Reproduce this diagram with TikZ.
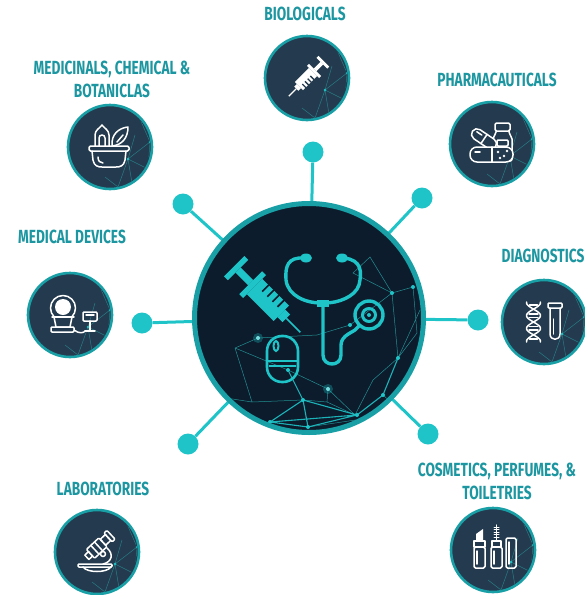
\documentclass[tikz,border=0pt]{standalone}
\usepackage{fontspec}
\newfontfamily\capsfont{Fira Sans}[FakeStretch=0.72]
\usetikzlibrary{positioning}

\definecolor{satfill}{RGB}{36,58,78}
\definecolor{corefill}{RGB}{12,28,44}
\definecolor{ringteal}{RGB}{24,160,166}
\definecolor{dotcyan}{RGB}{30,196,200}
\definecolor{labelteal}{RGB}{28,150,160}
\definecolor{webteal}{RGB}{40,170,170}

% syringe lying along +x, needle to the right
% #1 ink, #2 colour of the scale marks, #3 line width
\newcommand\syringe[3]{%
  \fill[#1] (-25,-8) rectangle (-22,8);
  \fill[#1] (-22,-2) rectangle (-12,2);
  \fill[#1] (-12,-9) rectangle (-9,9);
  \fill[#1] (-9,-6) rectangle (12,6);
  \foreach \t in {-4,0,4,8} \draw[#2,line width=#3] (\t,-6.5) -- (\t,-1);
  \fill[#1] (12,-3) rectangle (16,3);
  \draw[#1,line width=#3] (16,0) -- (27,0);
}

% faint network in the lower right of a small disc
\newcommand\mesh{%
  \draw[web] (8,40) -- (18,12) -- (40,-5) (18,12) -- (38,22) -- (22,36) -- (18,12)
    (38,22) -- (44,40) (-12,42) -- (8,40) -- (22,36) (30,-28) -- (40,-5) -- (38,22)
    (-30,38) -- (-12,42) (25,-12) -- (18,12) (-5,30) -- (8,40);
  \foreach \p in {(18,12),(38,22),(8,40),(40,-5),(22,36)} \fill[spark] \p circle (1.3pt);
}

\begin{document}
\begin{tikzpicture}[x=1pt,y=-1pt,
  sat/.style={circle,minimum size=84pt,inner sep=0pt,fill=satfill,draw=ringteal,line width=2.6pt},
  knob/.style={circle,minimum size=21pt,inner sep=0pt,fill=dotcyan},
  spoke/.style={draw=dotcyan,line width=3pt},
  lbl/.style={text=labelteal,font=\capsfont\bfseries\fontsize{19}{23}\selectfont,align=center,inner sep=0pt},
  ico/.style={draw=white,line width=1.5pt,line cap=round,line join=round},
  steth/.style={draw=dotcyan,line width=3.4pt,line cap=round,line join=round},
  web/.style={draw=webteal,line width=0.5pt,opacity=0.6},
  bright/.style={draw=dotcyan,line width=1.1pt,opacity=0.9},
  spark/.style={fill=dotcyan}]
\useasboundingbox (0,0) rectangle (585,595);

% hub and spokes
\coordinate (mid) at (309,318);
\foreach \n/\x/\y in {k1/313/152,k2/422/198,k3/478/320,k4/428/434,k5/188/444,k6/142/323,k7/183/204}
  \node[knob] (\n) at (\x,\y) {};
\foreach \n in {k1,k2,k3,k4,k5,k6,k7}
  \draw[spoke] (mid) -- (\n);
\node[circle,minimum size=229pt,inner sep=0pt,fill=corefill,draw=ringteal,line width=5pt] (core) at (mid) {};

% the seven discs
\node[sat] (bio) at (307,78) {};
\node[sat] (med) at (110,147) {};
\node[sat] (pha) at (492,144) {};
\node[sat] (dia) at (544,322) {};
\node[sat] (dev) at (70,315) {};
\node[sat] (cos) at (493,550) {};
\node[sat] (lab) at (97,552) {};

\foreach \s in {bio,med,pha,dia,dev,cos,lab} {
  \begin{scope}[shift={(\s.center)}]
    \clip (0,0) circle (40pt);
    \mesh
  \end{scope}
}

% network inside the hub
\begin{scope}
  \clip (mid) circle (112pt);
  \draw[web,opacity=0.8]
    (235,348) -- (288,370) (392,293) -- (413,287)
    (392,293) -- (370,257) -- (353,273) -- (392,293)
    (288,370) -- (328,389) -- (355,415)
    (303,400) -- (252,402)
    (303,400) -- (327,402) -- (355,415) (327,402) -- (328,389)
    (383,395) -- (403,413) -- (308,427)
    (398,358) -- (417,333) -- (413,287)
    (355,415) -- (373,380) -- (398,358)
    (235,348) -- (258,338) -- (317,335) -- (350,325) -- (392,293)
    (252,402) -- (235,348) (226,398) -- (252,402) (398,358) -- (392,293)
    (420,310) -- (398,358) (260,425) -- (270,422);
  \draw[bright]
    (288,370) -- (303,400) -- (270,422) -- (357,415) -- (383,395) -- (398,358)
    (303,400) -- (357,415) (308,427) -- (357,415) (303,400) -- (308,427)
    (270,422) -- (308,427);
  \foreach \p in {(258,338),(328,389)} {
    \fill[dotcyan,opacity=0.3] \p circle (5pt);
    \fill[white!40!dotcyan] \p circle (2pt);
  }
  \foreach \p in {(288,370),(303,400),(308,427),(357,415),(383,395),(398,358),(270,422),(392,293),(413,287),(350,325)}
    \fill[spark] \p circle (2pt);
\end{scope}

% hub: syringe, stethoscope, capsule
\begin{scope}[shift={(266,298)},rotate=-45,scale=1.8]
  \syringe{dotcyan}{corefill}{1.6pt}
\end{scope}
\fill[dotcyan] (306,258) ellipse (6pt and 4.5pt);
\fill[dotcyan] (342,258) ellipse (6pt and 4.5pt);
\draw[steth] (304,258) .. controls (288,257) and (285,266) .. (286,280) .. controls (288,296) and (306,303) .. (321,303);
\draw[steth] (344,258) .. controls (362,260) and (362,272) .. (359,285) .. controls (355,297) and (338,303) .. (325,303);
\fill[dotcyan] (317,300) rectangle (329,307);
\draw[steth] (323,307) -- (323,355) .. controls (323,367) and (341,367) .. (341,355) -- (341,345)
  .. controls (341,335) and (354,332) .. (356,329) -- (360,325);
\draw[steth] (369,315) circle (14pt);
\draw[dotcyan,line width=3pt] (369,315) circle (6.5pt);
\fill[dotcyan] (369,315) circle (2pt);
\draw[steth,line width=2.6pt,rounded corners=15pt] (267,336) rectangle (298,382);
\draw[dotcyan,line width=2.6pt] (267,361) -- (298,361);
\draw[dotcyan,line width=2pt] (269,366) -- (296,366);
\draw[dotcyan,line width=2pt] (276,346) ellipse (2.5pt and 5pt);

% biologicals
\begin{scope}[shift={(bio.center)},rotate=225,scale=0.95]
  \syringe{white}{satfill}{1.4pt}
\end{scope}

% medicinals
\begin{scope}[shift={(med.center)}]
  \draw[ico,rounded corners=1.5pt] (-21,-1) rectangle (19,4);
  \draw[ico] (-18,4) -- (-17,13) .. controls (-16,19) and (-12,20) .. (-8,20) -- (6,20) .. controls (10,20) and (14,19) .. (15,13) -- (16,4);
  \draw[ico] (-12,10) .. controls (-12,14) and (-10,16) .. (-7,16);
  \draw[ico] (-15,-1) -- (-15,-12) .. controls (-15,-17) and (-10,-19) .. (-8,-22) .. controls (-6,-19) and (-1,-17) .. (-1,-12) -- (-1,-1);
  \draw[ico] (-11,-1) -- (-11,-9) .. controls (-11,-13) and (-5,-13) .. (-5,-9) -- (-5,-1);
  \draw[ico] (2,-1) .. controls (1,-13) and (9,-19) .. (18,-20) .. controls (18,-9) and (12,-2) .. (2,-1);
  \draw[ico] (7,-5) -- (13,-12);
\end{scope}

% pharmaceuticals
\begin{scope}[shift={(pha.center)}]
  \draw[ico,rounded corners=1.5pt] (3,-21) rectangle (18,-13);
  \draw[ico,rounded corners=2pt] (4,-13) -- (4,-10) -- (1,-7) -- (1,17) -- (20,17) -- (20,-7) -- (17,-10) -- (17,-13);
  \draw[ico,rounded corners=1pt] (5,-4) rectangle (16,2);
  \begin{scope}[shift={(-8,-5)},rotate=-34]
    \filldraw[ico,fill=satfill,rounded corners=5.5pt] (-14,-5.5) rectangle (14,5.5);
    \draw[ico] (0,-5.5) -- (0,5.5);
    \draw[ico] (-10,-2) -- (-4,-2);
  \end{scope}
  \filldraw[ico,fill=satfill,rounded corners=7pt] (-22,3) rectangle (21,18);
  \draw[ico] (0,3) -- (0,18);
  \draw[ico] (-17,8) -- (-12,8);
  \foreach \p in {(6,8),(12,12),(15,7),(8,14)} \fill[white] \p circle (1.3pt);
\end{scope}

% diagnostics
\begin{scope}[shift={(dia.center)}]
  \draw[ico] plot[domain=-20:20,samples=41,smooth] ({-10.5+7*sin(\x*14)},\x);
  \draw[ico] plot[domain=-20:20,samples=41,smooth] ({-10.5-7*sin(\x*14)},\x);
  \foreach \y in {-17,-8,-4.5,4.5,8,17}
    \draw[ico] ({-10.5-7*abs(sin(\y*14))+2},\y) -- ({-10.5+7*abs(sin(\y*14))-2},\y);
  \draw[ico,rounded corners=1pt] (4,-19) rectangle (18,-14);
  \draw[ico] (6,-14) -- (6,12) .. controls (6,19) and (16,19) .. (16,12) -- (16,-14);
  \draw[ico] (9.5,-3) -- (9.5,12);
\end{scope}

% medical devices
\begin{scope}[shift={(dev.center)}]
  \draw[ico] (-7,-7) circle (12.5pt);
  \fill[white] (-7,-8) circle (8pt);
  \filldraw[ico,fill=satfill] (-16,2) -- (-14,12) -- (0,12) -- (2,2) -- cycle;
  \draw[ico] (-18,2) -- (4,2);
  \draw[ico,rounded corners=1pt] (-19,12) rectangle (4,17);
  \draw[ico,rounded corners=1pt] (13,-3) rectangle (27,6);
  \draw[ico] (16,0) -- (24,0);
  \draw[ico] (20,6) -- (20,16) (15,16) -- (25,16);
  \draw[ico] (4,15) .. controls (9,19) and (14,18) .. (15,16);
\end{scope}

% laboratories
\begin{scope}[shift={(lab.center)}]
  \begin{scope}[shift={(3,-7)},rotate=43]
    \draw[ico] (-18,-3) rectangle (-13,3);
    \draw[ico,rounded corners=1pt] (-13,-6) rectangle (4,6);
    \draw[ico] (-7,-6) -- (-7,6) (-2,-6) -- (-2,6);
    \draw[ico] (4,-4) rectangle (11,4);
    \draw[ico,rounded corners=1pt] (11,-6) rectangle (15,6);
  \end{scope}
  \draw[ico] (10,-4) .. controls (17,2) and (15,10) .. (6,12);
  \draw[ico] (6,2) circle (2.5pt);
  \draw[ico,rounded corners=1pt] (-19,12) rectangle (15,15);
  \draw[ico] (-14,15) .. controls (-10,21) and (10,21) .. (14,15);
\end{scope}

% cosmetics
\begin{scope}[shift={(cos.center)}]
  \fill[white] (-17,-9) -- (-17,-16) -- (-10,-21) -- (-10,-9) -- cycle;
  \draw[ico] (-19,-9) rectangle (-8,-3);
  \draw[ico,rounded corners=1.5pt] (-19,-3) rectangle (-8,18);
  \draw[ico] (-16,1) -- (-16,14);
  \draw[ico] (3.5,-25) -- (3.5,-9);
  \foreach \y in {-23,-20.5,-18,-15.5,-13} \draw[ico,line width=1pt] (1,\y) -- (6,\y);
  \draw[ico] (-1,-9) rectangle (8,-3);
  \draw[ico,rounded corners=1.5pt] (-2,-3) rectangle (9,18);
  \draw[ico] (1,1) -- (1,14);
  \draw[ico,rounded corners=1.5pt] (13,-12) rectangle (23,18);
  \draw[ico] (16,-8) -- (16,14);
\end{scope}

% captions
\node[lbl] (biot) at (305,14) {BIOLOGICALS};
\node[lbl] (medt) at (112,79) {MEDICINALS, CHEMICAL \&\\BOTANICLAS};
\node[lbl] (phat) at (497,80) {PHARMACAUTICALS};
\node[lbl] (diat) at (543,256) {DIAGNOSTICS};
\node[lbl] (devt) at (72,237) {MEDICAL DEVICES};
\node[lbl] (cost) at (497,481) {COSMETICS, PERFUMES, \&\\TOILETRIES};
\node[lbl] (labt) at (103,489) {LABORATORIES};
\end{tikzpicture}
\end{document}
